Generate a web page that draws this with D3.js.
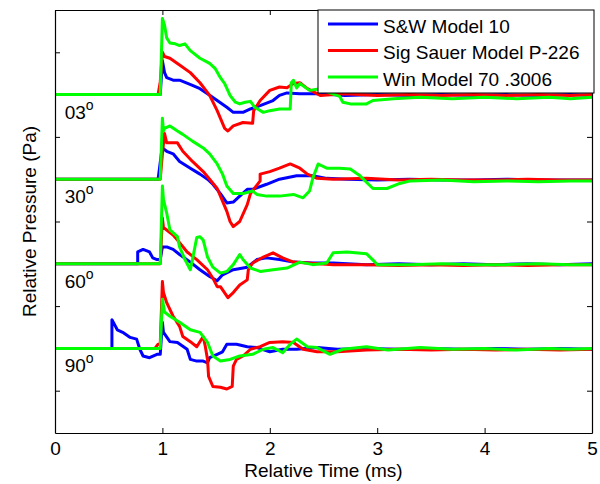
<!DOCTYPE html>
<html>
<head>
<meta charset="utf-8">
<script src="https://cdnjs.cloudflare.com/ajax/libs/d3/7.8.5/d3.min.js"></script>
<style>
  body { margin: 0; background: #fff; }
  text { font-family: "Liberation Sans", Arial, sans-serif; fill: #000; }
</style>
</head>
<body>
<div class="canvas"></div>
<script>
// angle of each trace group and its vertical offset
const angleLabels = ['03', '30', '60', '90'];
const angleOffsets = [4, 3, 2, 1];
const seriesNames = ['S&W Model 10', 'Sig Sauer Model P-226', 'Win Model 70 .3006'];
const xTicks = [0, 1, 2, 3, 4, 5];
const yTicks = [0.5, 1.5, 2.5, 3.5, 4.5];

// [time (ms), relative pressure], per gun and angle
const sw03 = [[0,0],[0.98,0],[1.00,0.40],[1.02,0.26],[1.04,0.20],[1.10,0.17],[1.16,0.17],[1.28,0.11],[1.35,0.07],[1.42,0.01],[1.51,-0.07],[1.60,-0.15],[1.66,-0.21],[1.75,-0.21],[1.82,-0.17],[1.91,-0.13],[2.03,-0.07],[2.09,-0.01],[2.16,0.02],[2.28,0.01],[2.47,0.01],[2.7,-0.01],[3.0,0.00],[3.3,-0.01],[3.6,0.00],[3.9,-0.01],[4.2,0.00],[4.5,-0.01],[4.8,0.00],[5.0,-0.01]];
const sig03 = [[0,0],[0.96,0],[0.98,0.15],[1.00,0.50],[1.02,0.45],[1.07,0.43],[1.16,0.35],[1.26,0.26],[1.35,0.14],[1.44,-0.01],[1.51,-0.19],[1.58,-0.40],[1.61,-0.43],[1.66,-0.37],[1.75,-0.33],[1.84,-0.34],[1.85,-0.19],[1.91,-0.07],[2.00,0.05],[2.09,0.09],[2.16,0.08],[2.22,0.13],[2.28,0.14],[2.35,0.07],[2.47,-0.01],[2.7,0.01],[3.0,-0.01],[3.3,0.00],[3.6,-0.01],[3.9,0.00],[4.2,-0.01],[4.5,0.00],[4.8,-0.01],[5.0,0.00]];
const win03 = [[0,0],[0.98,0],[1.00,0.90],[1.02,0.82],[1.04,0.67],[1.07,0.61],[1.12,0.60],[1.16,0.58],[1.21,0.60],[1.26,0.52],[1.35,0.43],[1.44,0.37],[1.49,0.31],[1.54,0.20],[1.58,0.13],[1.63,-0.01],[1.68,-0.09],[1.72,-0.11],[1.77,-0.09],[1.82,-0.08],[1.86,-0.15],[1.94,-0.21],[2.00,-0.19],[2.09,-0.17],[2.19,-0.17],[2.20,0.14],[2.22,0.17],[2.25,0.08],[2.28,0.13],[2.37,0.05],[2.47,0.07],[2.56,0.02],[2.65,-0.02],[2.68,-0.09],[2.75,-0.11],[2.90,-0.11],[2.96,-0.07],[3.15,-0.05],[3.4,-0.03],[3.7,-0.05],[4.0,-0.03],[4.3,-0.05],[4.6,-0.03],[4.8,-0.05],[5.0,-0.03]];

const sw30 = [[0,0],[0.96,0],[0.99,0.30],[1.00,0.37],[1.04,0.33],[1.10,0.30],[1.16,0.21],[1.26,0.13],[1.35,0.06],[1.42,0.00],[1.47,-0.06],[1.54,-0.17],[1.60,-0.28],[1.66,-0.27],[1.72,-0.20],[1.79,-0.12],[1.84,-0.12],[1.97,-0.06],[2.09,0.00],[2.25,0.04],[2.40,0.04],[2.53,0.01],[2.72,0.00],[3.0,-0.01],[3.3,0.00],[3.6,-0.01],[3.9,-0.01],[4.2,0.00],[4.5,-0.01],[4.8,-0.01],[5.0,-0.01]];
const sig30 = [[0,0],[0.98,0],[1.00,0.30],[1.02,0.54],[1.04,0.43],[1.14,0.43],[1.19,0.33],[1.28,0.21],[1.38,0.09],[1.44,0.00],[1.51,-0.11],[1.56,-0.26],[1.60,-0.38],[1.63,-0.50],[1.66,-0.56],[1.72,-0.50],[1.79,-0.30],[1.82,-0.17],[1.91,-0.02],[1.91,0.06],[2.00,0.09],[2.09,0.13],[2.19,0.18],[2.28,0.13],[2.35,0.06],[2.44,0.01],[2.59,0.00],[2.90,0.01],[3.2,-0.01],[3.5,0.00],[3.8,-0.01],[4.1,-0.01],[4.4,0.00],[4.7,-0.01],[5.0,-0.01]];
const win30 = [[0,0],[0.98,0],[1.00,0.72],[1.01,0.57],[1.02,0.60],[1.07,0.63],[1.14,0.57],[1.19,0.53],[1.28,0.45],[1.38,0.37],[1.44,0.30],[1.51,0.18],[1.56,0.06],[1.60,-0.08],[1.66,-0.17],[1.75,-0.17],[1.84,-0.14],[1.88,-0.18],[1.97,-0.20],[2.09,-0.20],[2.22,-0.18],[2.31,-0.22],[2.37,-0.14],[2.40,0.01],[2.45,0.18],[2.53,0.13],[2.65,0.13],[2.75,0.12],[2.84,0.04],[2.96,-0.11],[3.09,-0.11],[3.21,-0.05],[3.31,-0.02],[3.6,-0.01],[3.9,-0.03],[4.2,-0.02],[4.5,-0.03],[4.8,-0.02],[5.0,-0.02]];

const sw60 = [[0,0],[0.77,0],[0.77,0.14],[0.82,0.17],[0.88,0.14],[0.91,0.07],[0.95,0.05],[0.98,0.05],[1.00,0.20],[1.04,0.20],[1.10,0.17],[1.16,0.11],[1.26,0.02],[1.35,-0.07],[1.44,-0.15],[1.51,-0.20],[1.56,-0.13],[1.66,-0.07],[1.79,-0.04],[1.88,0.05],[1.97,0.07],[2.09,0.05],[2.22,0.02],[2.40,0.01],[2.59,0.01],[2.9,-0.01],[3.2,0.00],[3.5,-0.01],[3.8,0.00],[4.1,-0.01],[4.4,0.00],[4.7,-0.01],[5.0,0.00]];
const sig60 = [[0,0],[0.98,0],[1.00,0.54],[1.01,0.43],[1.04,0.40],[1.10,0.34],[1.16,0.25],[1.23,0.14],[1.32,0.05],[1.42,-0.07],[1.47,-0.17],[1.51,-0.27],[1.54,-0.27],[1.61,-0.40],[1.66,-0.34],[1.72,-0.25],[1.79,-0.19],[1.80,-0.07],[1.84,0.01],[1.94,0.08],[2.03,0.13],[2.12,0.07],[2.22,0.02],[2.35,0.01],[2.59,-0.01],[2.9,-0.01],[3.2,-0.02],[3.5,-0.01],[3.8,-0.02],[4.1,-0.01],[4.4,-0.02],[4.7,-0.01],[5.0,-0.01]];
const win60 = [[0,0],[0.98,0],[1.00,0.92],[1.01,0.76],[1.04,0.60],[1.07,0.40],[1.14,0.32],[1.16,0.20],[1.21,0.05],[1.26,-0.07],[1.28,0.05],[1.32,0.31],[1.35,0.32],[1.38,0.28],[1.42,0.08],[1.47,-0.04],[1.54,-0.11],[1.60,-0.09],[1.66,-0.01],[1.72,0.11],[1.75,0.05],[1.82,-0.05],[1.91,-0.09],[2.03,-0.07],[2.16,-0.05],[2.28,0.02],[2.40,-0.01],[2.53,0.01],[2.59,0.13],[2.72,0.14],[2.90,0.12],[2.98,0.02],[3.00,-0.01],[3.3,-0.01],[3.6,0.00],[3.9,-0.01],[4.2,-0.01],[4.5,0.00],[4.8,-0.01],[5.0,-0.01]];

const sw90 = [[0,0],[0.53,0],[0.53,0.34],[0.58,0.22],[0.63,0.19],[0.70,0.13],[0.76,0.11],[0.79,-0.01],[0.82,-0.09],[0.88,-0.11],[0.95,-0.07],[0.98,-0.07],[1.00,0.31],[1.01,0.19],[1.07,0.08],[1.14,0.07],[1.23,-0.01],[1.26,-0.13],[1.32,-0.15],[1.38,-0.15],[1.42,-0.17],[1.44,-0.11],[1.51,-0.07],[1.56,-0.04],[1.60,0.05],[1.69,0.05],[1.79,0.02],[1.88,0.01],[2.00,-0.04],[2.12,-0.01],[2.25,-0.01],[2.44,0.01],[2.63,-0.01],[2.9,0.00],[3.2,-0.01],[3.5,0.00],[3.8,-0.01],[4.1,0.00],[4.4,-0.01],[4.7,0.00],[5.0,-0.01]];
const sig90 = [[0,0],[0.93,0],[0.96,0.05],[0.98,0.05],[1.00,0.79],[1.01,0.66],[1.04,0.54],[1.10,0.38],[1.16,0.26],[1.19,0.14],[1.26,0.08],[1.32,0.02],[1.38,0.14],[1.40,0.02],[1.42,-0.13],[1.43,-0.33],[1.47,-0.45],[1.54,-0.46],[1.60,-0.48],[1.65,-0.45],[1.66,-0.21],[1.69,-0.13],[1.75,-0.09],[1.82,-0.01],[1.91,0.02],[2.00,0.07],[2.12,0.08],[2.22,0.07],[2.31,-0.01],[2.44,-0.04],[2.63,-0.04],[2.9,-0.02],[3.2,-0.01],[3.5,-0.02],[3.8,-0.01],[4.1,-0.02],[4.4,-0.01],[4.7,-0.02],[5.0,-0.01]];
const win90 = [[0,0],[0.98,0],[1.00,0.58],[1.02,0.43],[1.07,0.38],[1.16,0.31],[1.26,0.22],[1.35,0.19],[1.42,0.07],[1.47,-0.09],[1.54,-0.15],[1.63,-0.13],[1.72,-0.09],[1.84,-0.07],[1.94,-0.01],[2.03,0.01],[2.12,-0.05],[2.19,0.05],[2.25,0.11],[2.35,0.02],[2.44,0.01],[2.56,-0.07],[2.68,-0.01],[2.9,0.02],[3.1,-0.02],[3.4,0.01],[3.7,-0.01],[4.0,0.00],[4.3,-0.02],[4.6,0.00],[4.8,-0.01],[5.0,0.00]];

// one row per gun, one column per angle
const traces = [
  [sw03, sw30, sw60, sw90],
  [sig03, sig30, sig60, sig90],
  [win03, win30, win60, win90]
];

const colours = ['#0000ff', '#ff0000', '#00ff00'];
const dims = {width: 600, height: 484};
const plot = {left: 55, right: 592, top: 10, bottom: 433};
const font = 19;

const svg = d3.select('.canvas')
  .append('svg')
    .attr('width', dims.width)
    .attr('height', dims.height);

const x = d3.scaleLinear().domain([0, 5]).range([plot.left, plot.right]);
const y = d3.scaleLinear().domain([0, 5]).range([plot.bottom, plot.top]);

const line = d3.line()
  .x(d => x(d[0]))
  .y(d => y(d[1]));

// traces: blue, then red, then green on top
traces.forEach((gun, i) => {
  svg.append('g')
    .selectAll('path')
    .data(gun)
    .enter()
    .append('path')
      .attr('fill', 'none')
      .attr('stroke', colours[i])
      .attr('stroke-width', 3)
      .attr('stroke-linejoin', 'round')
      .attr('d', (d, j) => line(d.map(p => [p[0], p[1] + angleOffsets[j]])));
});

// axes box, ticks pointing inwards like matlab
const styleAxis = g => {
  g.selectAll('path.domain').attr('stroke', '#000').attr('stroke-width', 1.2);
  g.selectAll('.tick line').attr('stroke', '#000');
  g.selectAll('text')
    .style('font-family', '"Liberation Sans", Arial, sans-serif')
    .style('font-size', font + 'px')
    .attr('fill', '#000');
};

svg.append('g')
  .attr('transform', `translate(0,${plot.bottom})`)
  .call(d3.axisBottom(x).tickValues(xTicks).tickFormat(d3.format('d'))
    .tickSizeInner(-5).tickSizeOuter(0).tickPadding(9))
  .call(styleAxis);

svg.append('g')
  .attr('transform', `translate(0,${plot.top})`)
  .call(d3.axisTop(x).tickValues(xTicks).tickSizeInner(-5).tickSizeOuter(0).tickFormat(''))
  .call(styleAxis);

svg.append('g')
  .attr('transform', `translate(${plot.left},0)`)
  .call(d3.axisLeft(y).tickValues(yTicks).tickSizeInner(-5).tickSizeOuter(0).tickFormat(''))
  .call(styleAxis);

svg.append('g')
  .attr('transform', `translate(${plot.right},0)`)
  .call(d3.axisRight(y).tickValues(yTicks).tickSizeInner(-5).tickSizeOuter(0).tickFormat(''))
  .call(styleAxis);

// angle labels under each baseline
const lab = svg.append('g').selectAll('text')
  .data(angleLabels)
  .enter()
  .append('text')
    .attr('x', x(0.09))
    .attr('y', (d, i) => y(angleOffsets[i]) + 24)
    .style('font-size', font + 'px');
lab.append('tspan').text(d => d);
lab.append('tspan')
  .attr('dy', -9)
  .style('font-size', '14px')
  .text('o');

// axis titles
svg.append('text')
  .attr('x', (plot.left + plot.right) / 2)
  .attr('y', 477)
  .attr('text-anchor', 'middle')
  .style('font-size', font + 'px')
  .text('Relative Time (ms)');

svg.append('text')
  .attr('transform', `translate(36,${(plot.top + plot.bottom) / 2}) rotate(-90)`)
  .attr('text-anchor', 'middle')
  .style('font-size', font + 'px')
  .text('Relative Pressure (Pa)');

// legend
const legend = svg.append('g');
legend.append('rect')
  .attr('x', 318).attr('y', 10)
  .attr('width', 276).attr('height', 83)
  .attr('fill', '#fff')
  .attr('stroke', '#000')
  .attr('stroke-width', 1);

const items = legend.selectAll('g.item')
  .data(seriesNames)
  .enter()
  .append('g')
    .attr('class', 'item')
    .attr('transform', (d, i) => `translate(0,${24 + i * 26.5})`);

items.append('line')
  .attr('x1', 328).attr('x2', 378)
  .attr('y1', 0).attr('y2', 0)
  .attr('stroke', (d, i) => colours[i])
  .attr('stroke-width', 3);

items.append('text')
  .attr('x', 383)
  .attr('y', 8.5)
  .style('font-size', font + 'px')
  .text(d => d);
</script>
</body>
</html>
